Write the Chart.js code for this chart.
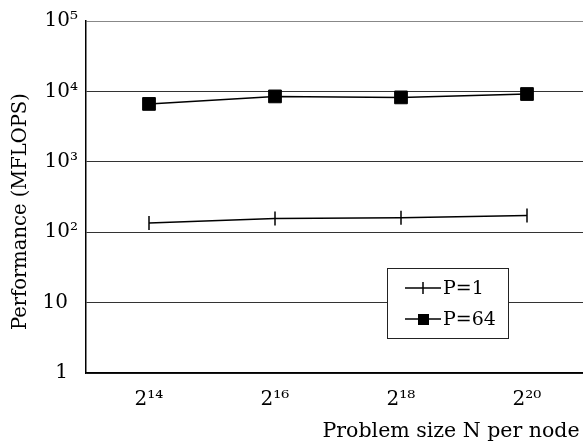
<!DOCTYPE html>
<html>
<head>
<meta charset="utf-8">
<script src="https://cdn.jsdelivr.net/npm/chart.js@4/dist/chart.umd.min.js"></script>
<style>
html,body{margin:0;padding:0;background:#fff;}
#wrap{width:583px;height:445px;}
</style>
</head>
<body>
<div id="wrap"><canvas id="c" width="583" height="445"></canvas></div>
<script>
// Data
const xExponents = [14, 16, 18, 20];           // problem size N = 2^x
const seriesNames = ['P=1', 'P=64'];
const perfP1 = [135, 156, 160, 172];           // MFLOPS
const perfP64 = [6640, 8490, 8220, 9180];      // MFLOPS
const yTickValues = [1, 10, 100, 1000, 10000, 100000];

const SUP = ['\u2070','\u00b9','\u00b2','\u00b3','\u2074','\u2075','\u2076','\u2077','\u2078','\u2079'];
function sup(n){ return String(n).split('').map(d => SUP[+d]).join(''); }

const FONT = "'DejaVu Serif', 'Liberation Serif', serif";

const legendPlugin = {
  id: 'boxLegend',
  afterDatasetsDraw(chart) {
    const ctx = chart.ctx;
    const bx = 387, by = 268, bw = 121, bh = 70;
    ctx.save();
    ctx.fillStyle = '#fff';
    ctx.fillRect(bx, by, bw, bh);
    ctx.strokeStyle = '#222';
    ctx.lineWidth = 1;
    ctx.strokeRect(bx + 0.5, by + 0.5, bw, bh);
    const rows = [288, 319];
    chart.data.datasets.forEach((ds, i) => {
      const y = rows[i];
      ctx.strokeStyle = '#000';
      ctx.lineWidth = 1.5;
      ctx.beginPath();
      ctx.moveTo(405, y); ctx.lineTo(441, y);
      ctx.stroke();
      if (i === 0) {
        ctx.beginPath();
        ctx.moveTo(423, y - 6); ctx.lineTo(423, y + 6);
        ctx.stroke();
      } else {
        ctx.fillStyle = '#000';
        ctx.fillRect(418, y - 5, 11, 11);
      }
      ctx.fillStyle = '#000';
      ctx.font = "19px " + FONT;
      ctx.textAlign = 'left';
      ctx.textBaseline = 'middle';
      ctx.fillText(ds.label, 443, y + 1);
    });
    ctx.restore();
  }
};

new Chart(document.getElementById('c'), {
  type: 'line',
  data: {
    datasets: [
      {
        label: seriesNames[0],
        data: xExponents.map((x, i) => ({x: x, y: perfP1[i]})),
        borderColor: '#000', backgroundColor: '#000', borderWidth: 1.5,
        pointStyle: 'line', rotation: 90, pointRadius: 7, pointBorderWidth: 1.5,
        fill: false, tension: 0
      },
      {
        label: seriesNames[1],
        data: xExponents.map((x, i) => ({x: x, y: perfP64[i]})),
        borderColor: '#000', backgroundColor: '#000', borderWidth: 1.5,
        pointStyle: 'rect', pointRadius: 9, pointBorderWidth: 1,
        fill: false, tension: 0
      }
    ]
  },
  options: {
    responsive: false,
    animation: false,
    devicePixelRatio: 1,
    layout: { autoPadding: false, padding: { top: 21, right: 0, left: 0, bottom: 0 } },
    plugins: { legend: { display: false }, tooltip: { enabled: false } },
    scales: {
      x: {
        type: 'linear',
        min: 13,
        max: 13 + 497 / 63,
        afterBuildTicks: s => { s.ticks = xExponents.map(v => ({value: v})); },
        afterFit: s => { s.height = 72; s.paddingRight = 0; s.paddingLeft = 0; },
        grid: { display: false, drawTicks: false },
        border: { display: true, color: '#000', width: 1.5 },
        ticks: {
          padding: 15,
          color: '#000',
          font: { family: FONT, size: 20 },
          maxRotation: 0,
          callback: v => '2' + sup(v)
        },
        title: {
          display: true,
          text: 'Problem size N per node\u2006',
          align: 'end',
          color: '#000',
          font: { family: FONT, size: 20.5 },
          padding: { top: 2, bottom: 1 }
        }
      },
      y: {
        type: 'logarithmic',
        min: 1,
        max: 100000,
        afterBuildTicks: s => { s.ticks = yTickValues.map(v => ({value: v})); },
        afterFit: s => { s.width = 86; },
        grid: {
          drawTicks: false,
          color: c => (c.tick && c.tick.value === 100000) ? '#888' : '#333',
          lineWidth: 1
        },
        border: { display: true, color: '#000', width: 1.5 },
        ticks: {
          padding: 8,
          color: '#000',
          font: { family: FONT, size: 20 },
          callback: v => {
            const e = Math.round(Math.log10(v));
            if (e === 0) return '1\u2002';
            if (e === 1) return '10\u2002';
            return '10' + sup(e);
          }
        },
        title: {
          display: true,
          text: 'Performance (MFLOPS)\u2002\u2002\u2002',
          color: '#000',
          font: { family: FONT, size: 19.5 },
          padding: { top: 9, bottom: 0 }
        }
      }
    }
  },
  plugins: [legendPlugin]
});
</script>
</body>
</html>
